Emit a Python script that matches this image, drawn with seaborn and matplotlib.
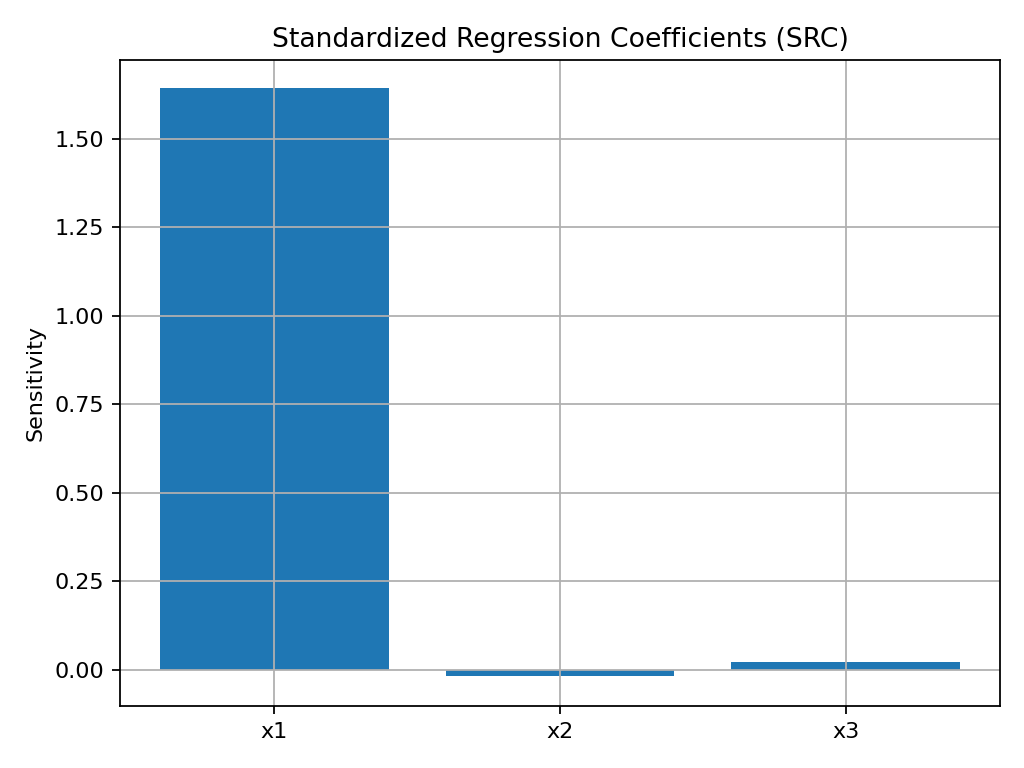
import matplotlib
matplotlib.use("Agg")
import matplotlib.pyplot as plt
import seaborn as sns
import pandas as pd

variables = ["x1", "x2", "x3"]
sensitivity = [1.643, -0.018, 0.022]

df = pd.DataFrame({"var": variables, "val": sensitivity})

fig, ax = plt.subplots(figsize=(6.4, 4.8), dpi=160)
sns.barplot(data=df, x="var", y="val", color="#1f77b4", saturation=1, width=0.8, ax=ax, errorbar=None)
ax.set_xlim(-0.54, 2.54)
ax.set_ylim(-0.1031, 1.7231)
ax.set_xlabel("")
ax.set_ylabel("Sensitivity")
ax.set_title("Standardized Regression Coefficients (SRC)")
ax.grid(True)
ax.set_axisbelow("line")
fig.subplots_adjust(left=120/1024, right=1000/1024, top=1-60/768, bottom=1-706/768)
fig.savefig("out.png", dpi=160)
